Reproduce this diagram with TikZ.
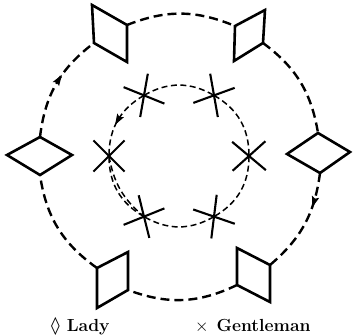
\documentclass[tikz,border=0pt]{standalone}
\usepackage{fontspec}
\usepackage{graphicx}
\newfontfamily\dejavu{DejaVu Sans}
\usetikzlibrary{calc,decorations.markings}
\begin{document}
\begin{tikzpicture}[x=1pt,y=1pt,
 lady/.style={line width=2.6pt, line join=miter},
 ring/.style={line width=2.4pt, dash pattern=on 9pt off 5pt},
 inner/.style={line width=1.5pt, dash pattern=on 6pt off 3.5pt},
 xline/.style={line width=2.1pt},
 arrowat/.style={postaction={decorate},decoration={markings,mark=at position #1 with {\fill[solid] (5pt,0pt) -- (-6pt,3.8pt) -- (-4pt,0pt) -- (-6pt,-3.8pt) -- cycle;}}},
 legend/.style={font=\fontsize{17.5}{19}\selectfont\bfseries, anchor=base west, inner sep=0pt}]
\useasboundingbox (0,0) rectangle (355,335);
% ladies
\draw[lady] (92,330) coordinate(TLa) -- (127,310) coordinate(TLb) -- (127,273) coordinate(TLc) -- (94,292) coordinate(TLd) -- cycle;
\draw[lady] (235,309) coordinate(TRa) -- (265,325) coordinate(TRb) -- (263,292) coordinate(TRc) -- (234,274) coordinate(TRd) -- cycle;
\draw[lady] (318,202) coordinate(Ra) -- (350,183) coordinate(Rb) -- (320,162) coordinate(Rc) -- (287,181) coordinate(Rd) -- cycle;
\draw[lady] (270,70) coordinate(BRa) -- (270,33) coordinate(BRb) -- (237,50) coordinate(BRc) -- (237,87) coordinate(BRd) -- cycle;
\draw[lady] (128,45) coordinate(BLa) -- (97,27) coordinate(BLb) -- (97,67) coordinate(BLc) -- (128,83) coordinate(BLd) -- cycle;
\draw[lady] (40,160) coordinate(La) -- (7,180) coordinate(Lb) -- (40,198) coordinate(Lc) -- (72,180) coordinate(Ld) -- cycle;
% outer ring
\draw[ring] (TLb) to[bend left=22] (TRa);
\draw[ring] (TRc) to[bend left=22] (Ra);
\draw[ring, arrowat=0.28] (Rc) to[bend left=21] (BRa);
\draw[ring] (BRc) to[bend left=23] (BLa);
\draw[ring] (BLc) to[bend left=23] (La);
\draw[ring, arrowat=0.55] (Lc) to[bend left=23] (TLd);
% gentlemen
\coordinate (c) at (179,179);
\node[inner sep=0pt, minimum size=0pt] (g0) at ($(c)+(0:70)$) {};
\node[inner sep=0pt, minimum size=0pt] (g60) at ($(c)+(60:70)$) {};
\node[inner sep=0pt, minimum size=0pt] (g120) at ($(c)+(120:70)$) {};
\node[inner sep=0pt, minimum size=0pt] (g180) at ($(c)+(180:70)$) {};
\node[inner sep=0pt, minimum size=0pt] (g240) at ($(c)+(240:70)$) {};
\node[inner sep=0pt, minimum size=0pt] (g300) at ($(c)+(300:70)$) {};
\foreach \g/\a/\b in {g120/-22/80, g60/20/100, g180/45/-45, g0/42/-40, g240/22/104, g300/-19/83}{
  \draw[xline] ($(\g)+(\a:22)$) -- ($(\g)+(\a+180:22)$);
  \draw[xline] ($(\g)+(\b:22)$) -- ($(\g)+(\b+180:22)$);
}
% inner ring
\draw[inner] (g120) to[bend left=30] (g60);
\draw[inner] (g60) to[bend left=30] (g0);
\draw[inner] (g0) to[bend left=30] (g300);
\draw[inner] (g300) to[bend left=30] (g240);
\draw[inner] (g240) to[bend left=30] (g180);
\draw[inner] (g180) to[bend right=20] (g240);
\draw[inner, arrowat=0.5] (g120) to[bend right=30] (g180);
% legend
\node[legend] (lady) at (51,4) {{\dejavu\bfseries ◊}\hspace{7pt}Lady};
\node[legend] (gent) at (195,4) {$\times$\hspace{8pt}Gentleman};
\end{tikzpicture}
\end{document}
